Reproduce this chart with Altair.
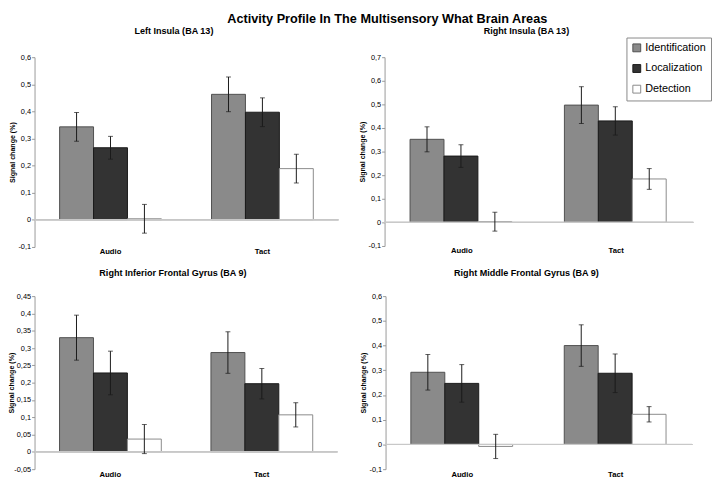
import altair as alt
import pandas as pd

conditions = ["Identification", "Localization", "Detection"]
categories = ["Audio", "Tact"]
panel_titles = [
    "Left Insula (BA 13)",
    "Right Insula (BA 13)",
    "Right Inferior Frontal Gyrus (BA 9)",
    "Right Middle Frontal Gyrus (BA 9)",
]

# order: Audio (Identification, Localization, Detection), Tact (Identification, Localization, Detection)
left_insula_mean = [0.343, 0.266, 0.004, 0.463, 0.397, 0.189]
left_insula_err = [0.053, 0.042, 0.053, 0.064, 0.053, 0.053]
right_insula_mean = [0.352, 0.281, 0.003, 0.497, 0.430, 0.184]
right_insula_err = [0.053, 0.048, 0.040, 0.078, 0.060, 0.044]
rifg_mean = [0.330, 0.228, 0.037, 0.287, 0.197, 0.107]
rifg_err = [0.065, 0.063, 0.042, 0.060, 0.044, 0.035]
rmfg_mean = [0.292, 0.247, -0.008, 0.400, 0.288, 0.122]
rmfg_err = [0.072, 0.076, 0.049, 0.084, 0.078, 0.031]

means = [left_insula_mean, right_insula_mean, rifg_mean, rmfg_mean]
errs = [left_insula_err, right_insula_err, rifg_err, rmfg_err]

y_domains = [[-0.1, 0.6], [-0.1, 0.7], [-0.05, 0.45], [-0.1, 0.6]]
y_ticks = [
    [-0.1, 0, 0.1, 0.2, 0.3, 0.4, 0.5, 0.6],
    [-0.1, 0, 0.1, 0.2, 0.3, 0.4, 0.5, 0.6, 0.7],
    [-0.05, 0, 0.05, 0.1, 0.15, 0.2, 0.25, 0.3, 0.35, 0.4, 0.45],
    [-0.1, 0, 0.1, 0.2, 0.3, 0.4, 0.5, 0.6],
]

fill_colors = ["#8a8a8a", "#333333", "#ffffff"]
stroke_colors = ["#505050", "#1a1a1a", "#8a8a8a"]

FONT = "Liberation Sans, Arial"


def panel(i, width, height, extent, title_offset):
    rows = []
    for ci, cat in enumerate(categories):
        for ki, cond in enumerate(conditions):
            m = means[i][ci * 3 + ki]
            e = errs[i][ci * 3 + ki]
            rows.append({"category": cat, "condition": cond, "value": m, "lo": m - e, "hi": m + e})
    df = pd.DataFrame(rows)
    base = alt.Chart(df)

    x = alt.X(
        "category:N",
        sort=categories,
        scale=alt.Scale(paddingInner=0.33, paddingOuter=0.165),
        axis=alt.Axis(
            title=None, labelAngle=0, domain=False, ticks=False,
            labelFontWeight="bold", labelFontSize=7.8, labelPadding=1,
            labelFont=FONT, labelColor="#000",
        ),
    )
    xo = alt.XOffset("condition:N", sort=conditions, scale=alt.Scale(paddingInner=0, paddingOuter=0))
    yscale = alt.Scale(domain=y_domains[i], nice=False, zero=False)
    yaxis = alt.Axis(
        values=y_ticks[i],
        labelExpr="replace(toString(datum.value), '.', ',')",
        title="Signal change (%)", titleFontSize=7.2, titleFont=FONT, titleFontWeight="bold",
        titleColor="#000", titlePadding=1, labelFontSize=7.5, labelFont=FONT, labelColor="#000",
        domainColor="#999", tickColor="#999", tickSize=3, labelPadding=1,
        minExtent=extent, maxExtent=extent, grid=False,
    )

    zero = base.mark_rule(color="#c8c8c8", strokeWidth=1).encode(
        y=alt.Y(datum=0, scale=yscale, axis=yaxis),
        x=alt.value(0), x2=alt.value(width),
    )
    bars = base.mark_bar(strokeWidth=1).encode(
        x=x, xOffset=xo,
        y=alt.Y("value:Q", scale=yscale, axis=yaxis),
        y2=alt.datum(0),
        fill=alt.Fill("condition:N", sort=conditions,
                      scale=alt.Scale(domain=conditions, range=fill_colors),
                      legend=alt.Legend(title=None)),
        stroke=alt.Stroke("condition:N", sort=conditions,
                          scale=alt.Scale(domain=conditions, range=stroke_colors),
                          legend=alt.Legend(title=None)),
    )
    err = base.mark_rule(color="#1a1a1a", strokeWidth=1).encode(
        x=x, xOffset=xo,
        y=alt.Y("lo:Q", scale=yscale, axis=yaxis),
        y2="hi:Q",
    )
    cap_lo = base.mark_tick(color="#1a1a1a", size=5, thickness=1).encode(
        x=x, xOffset=xo, y=alt.Y("lo:Q", scale=yscale, axis=yaxis),
    )
    cap_hi = base.mark_tick(color="#1a1a1a", size=5, thickness=1).encode(
        x=x, xOffset=xo, y=alt.Y("hi:Q", scale=yscale, axis=yaxis),
    )
    return alt.layer(bars, zero, err, cap_lo, cap_hi).properties(
        width=width, height=height,
        title=alt.TitleParams(panel_titles[i], fontSize=9.2, font=FONT, fontWeight="bold",
                              offset=title_offset, anchor="middle", frame="bounds"),
    )


top = alt.hconcat(panel(0, 309, 193, 17, 17.5), panel(1, 314, 192, 17, 17.5), spacing=20)
bottom = alt.hconcat(panel(2, 308, 176, 18, 14.5), panel(3, 312, 176, 17, 14.5), spacing=22)

chart = alt.vconcat(top, bottom, spacing=13).properties(
    padding=0,
    title=alt.TitleParams(
        "Activity Profile In The Multisensory What Brain Areas",
        fontSize=12.9, font=FONT, fontWeight="bold", anchor="middle", dx=28, offset=1.5,
    ),
).configure_view(stroke=None).configure_legend(
    orient="none", legendX=602, legendY=-20,
    strokeColor="#888", fillColor="#ffffff", padding=5,
    symbolType="square", symbolSize=64, labelFontSize=11, labelFont=FONT,
    labelColor="#000", rowPadding=8, symbolStrokeWidth=1, labelOffset=3,
).resolve_scale(fill="shared", stroke="shared")

chart.save("out.html", embed_options={"renderer": "svg", "actions": False})
